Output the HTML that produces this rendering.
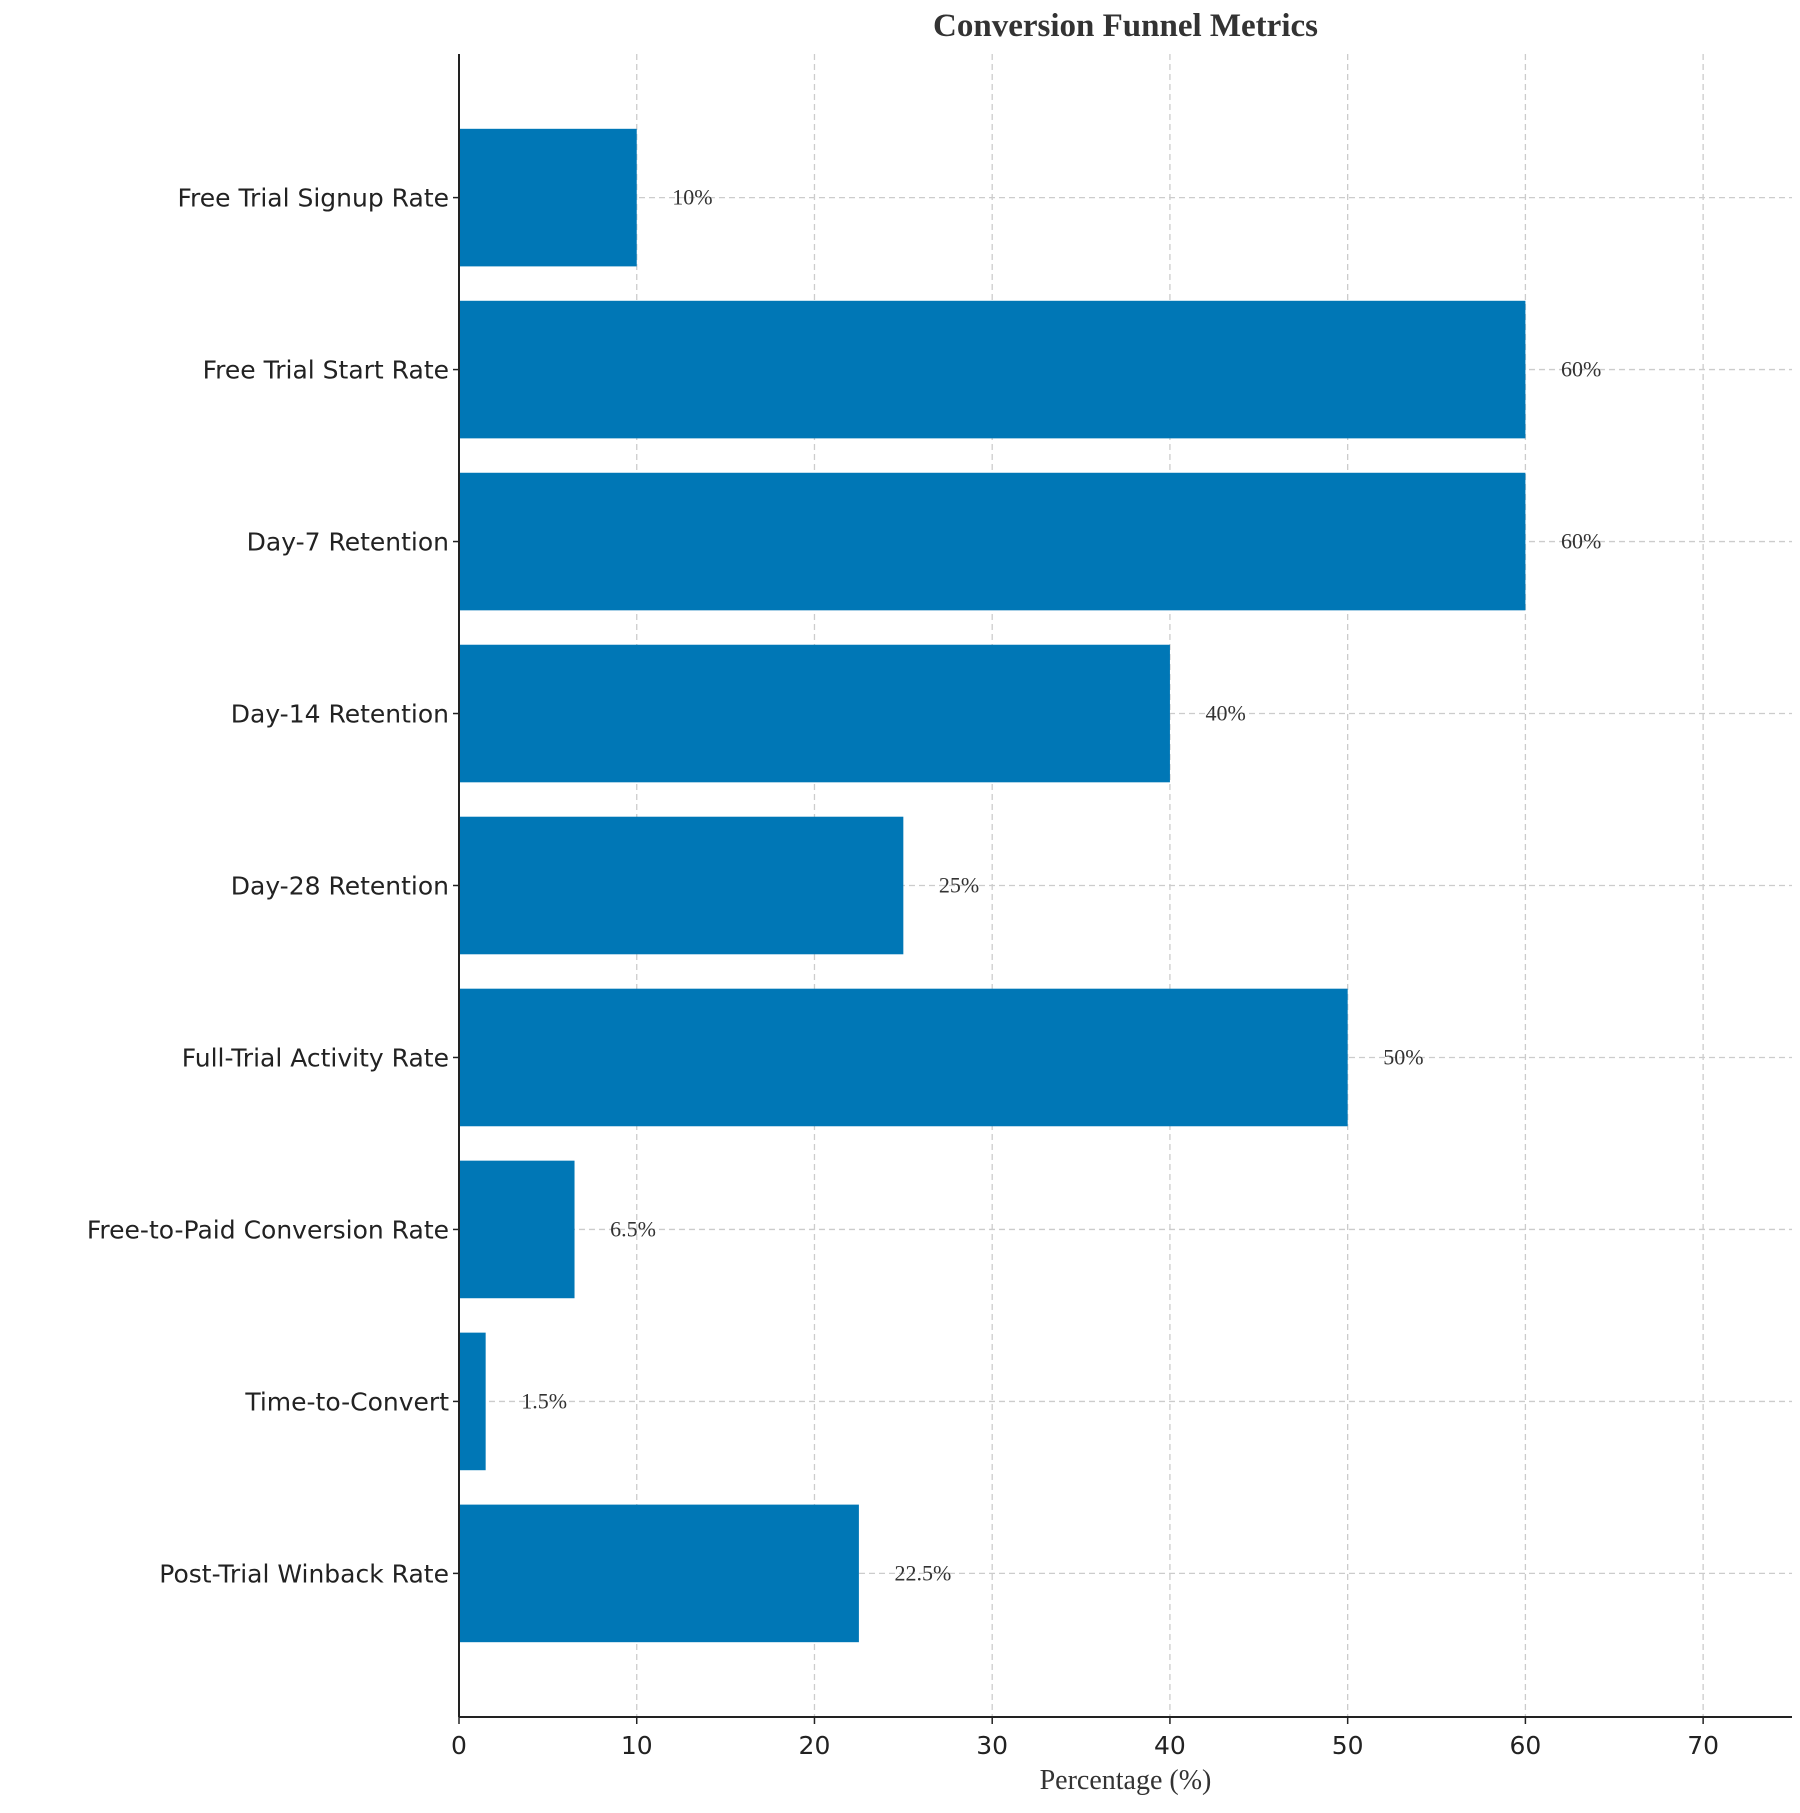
<!DOCTYPE html>
<html><head><meta charset="utf-8"><style>body{margin:0;background:#fff}</style></head>
<body>
<svg id="chart" width="1800" height="1808" xmlns="http://www.w3.org/2000/svg"></svg>
<script>
const categories = ["Free Trial Signup Rate","Free Trial Start Rate","Day-7 Retention","Day-14 Retention","Day-28 Retention","Full-Trial Activity Rate","Free-to-Paid Conversion Rate","Time-to-Convert","Post-Trial Winback Rate"];
const values = [10,60,60,40,25,50,6.5,1.5,22.5];
const valueLabels = ["10%","60%","60%","40%","25%","50%","6.5%","1.5%","22.5%"];
const xTicks = [0,10,20,30,40,50,60,70];

const svg = document.getElementById('chart');
const NS = 'http://www.w3.org/2000/svg';
const L = 459, R = 1792, T = 54, B = 1717, XMAX = 75;
const band = (B - T) / (categories.length - 1 + 2 * 0.835);
const xs = v => L + v / XMAX * (R - L);
const ys = i => T + band * (0.835 + i);
function mk(tag, attrs, parent) {
  const e = document.createElementNS(NS, tag);
  for (const k in attrs) e.setAttribute(k, attrs[k]);
  (parent || svg).appendChild(e);
  return e;
}
const grid = mk('g', {});


xTicks.forEach(t => {
  if (t === 0) return;
  const l = mk('line', {x1: xs(t), x2: xs(t), y1: T, y2: B, stroke: '#cccccc', 'stroke-width': 1.3, 'stroke-dasharray': '6,4'}, grid);
  
  
});
categories.forEach((c, i) => {
  const l = mk('line', {x1: L, x2: R, y1: ys(i), y2: ys(i), stroke: '#cccccc', 'stroke-width': 1.3, 'stroke-dasharray': '6,4'}, grid);
  
  
});
categories.forEach((c, i) => {
  const h = band * 0.8;
  const r = mk('rect', {x: L, y: ys(i) - h / 2, width: xs(values[i]) - L, height: h, fill: '#0077b6'});
  
  
  const vt = mk('text', {x: xs(values[i] + 2), y: ys(i) + 7, 'font-family': 'Liberation Serif, serif', 'font-size': 22, fill: '#333'});
  vt.textContent = valueLabels[i];
  
  
  const yt = mk('text', {x: L - 10, y: ys(i) + 9, 'text-anchor': 'end', 'font-family': 'DejaVu Sans, sans-serif', 'font-size': 25, fill: '#222'});
  yt.textContent = c;
  
  
  const tk = mk('line', {x1: L - 6, x2: L, y1: ys(i), y2: ys(i), stroke: '#222', 'stroke-width': 1.5});
  
  
});
xTicks.forEach(t => {
  const tk = mk('line', {x1: xs(t), x2: xs(t), y1: B, y2: B + 7, stroke: '#222', 'stroke-width': 1.5});
  
  
  const tt = mk('text', {x: xs(t), y: B + 37, 'text-anchor': 'middle', 'font-family': 'DejaVu Sans, sans-serif', 'font-size': 25, fill: '#222'});
  tt.textContent = t;
  
  
});
const ax1 = mk('line', {x1: L, x2: L, y1: T, y2: B, stroke: '#222', 'stroke-width': 2});


const ax2 = mk('line', {x1: L, x2: R, y1: B, y2: B, stroke: '#222', 'stroke-width': 2});


const title = mk('text', {x: (L + R) / 2, y: 36, 'text-anchor': 'middle', 'font-family': 'Liberation Serif, serif', 'font-size': 33, 'font-weight': 'bold', fill: '#333'});
title.textContent = 'Conversion Funnel Metrics';


const xl = mk('text', {x: (L + R) / 2, y: 1789, 'text-anchor': 'middle', 'font-family': 'Liberation Serif, serif', 'font-size': 28, fill: '#333'});
xl.textContent = 'Percentage (%)';


</script>
</body></html>
